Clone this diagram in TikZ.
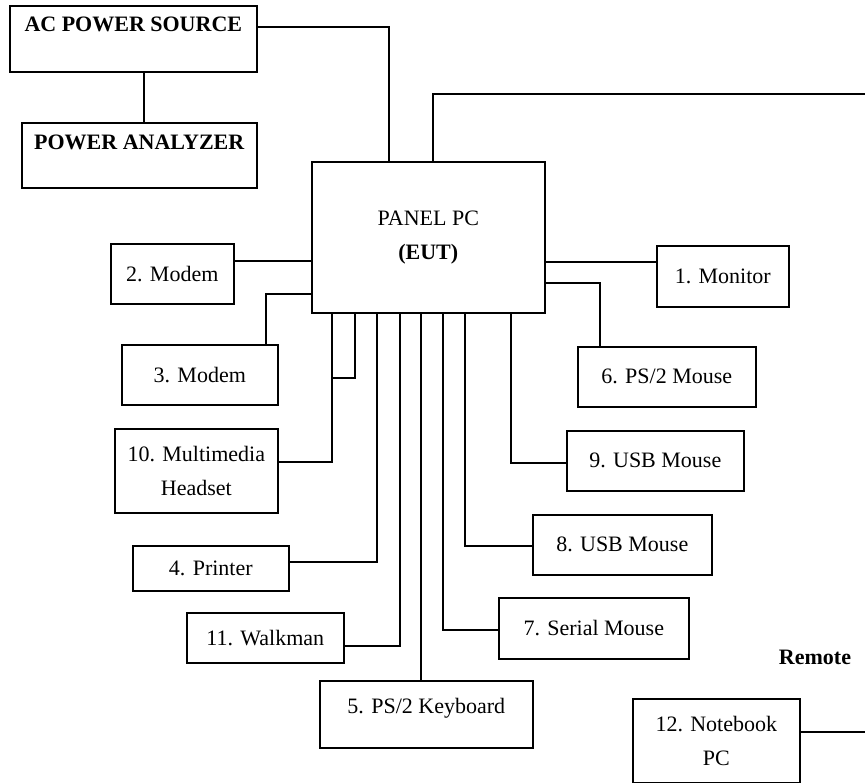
\documentclass[tikz,border=0pt]{standalone}
\usepackage{fontspec}
\setmainfont{Liberation Serif}
\usepackage{tikz}
\usetikzlibrary{positioning,calc}

\begin{document}
\begin{tikzpicture}[
  x=1pt, y=-1pt,
  font=\fontsize{22}{34}\selectfont,
  box/.style={draw, line width=1.6pt, anchor=north west, align=center, inner sep=0pt},
  wire/.style={line width=1.6pt},
]
\useasboundingbox (0,0) rectangle (865,783);
% power side
\node[box, minimum width=247, minimum height=66, text depth=30pt] (acsrc) at (9,5) {\textbf{AC POWER SOURCE}};
\node[box, minimum width=235, minimum height=65, text depth=26pt] (pwran) at (21,122) {\textbf{POWER ANALYZER}};
% equipment under test
\node[box, minimum width=233, minimum height=151] (eut) at (311,161) {PANEL PC\\\textbf{(EUT)}};
% peripherals, left
\node[box, minimum width=123, minimum height=60] (modemB) at (110,243) {2. Modem};
\node[box, minimum width=156, minimum height=60] (modemC) at (121,344) {3. Modem};
\node[box, minimum width=163, minimum height=84] (headset) at (114,428) {10. Multimedia\\Headset};
\node[box, minimum width=156, minimum height=45] (printer) at (132,545) {4. Printer};
\node[box, minimum width=157, minimum height=50] (walkman) at (186,612) {11. Walkman};
\node[box, minimum width=213, minimum height=67, text depth=17pt] (kbd) at (319,680) {5. PS/2 Keyboard};
% peripherals, right
\node[box, minimum width=132, minimum height=61] (monitor) at (656,245) {1. Monitor};
\node[box, minimum width=178, minimum height=60] (psmouse) at (577,346) {6. PS/2 Mouse};
\node[box, minimum width=177, minimum height=60] (usbB) at (566,430) {9. USB Mouse};
\node[box, minimum width=179, minimum height=60] (usbA) at (532,514) {8. USB Mouse};
\node[box, minimum width=190, minimum height=61] (sermouse) at (498,597) {7. Serial Mouse};
% remote side
\node (remote) at (815,657) {\textbf{Remote}};
\node[box, minimum width=167, minimum height=84] (nbpc) at (632,698) {12. Notebook\\PC};
\coordinate (remA) at (865,94);
\coordinate (remB) at (865,732);
% cables
\draw[wire] (acsrc.south -| 144,0) -- (pwran.north -| 144,0);
\draw[wire] (acsrc.east |- 0,27) -| (eut.north -| 389,0);
\draw[wire] (eut.north -| 433,0) |- (remA);
\draw[wire] (nbpc.east |- remB) -- (remB);
\draw[wire] (modemB.east |- 0,261) -- (eut.west |- 0,261);
\draw[wire] (modemC.north -| 266,0) |- (eut.west |- 0,294);
\draw[wire] (headset.east |- 0,462) -| (eut.south -| 332,0);
\draw[wire] (332,378) -| (eut.south -| 355,0);
\draw[wire] (printer.east |- 0,562) -| (eut.south -| 377,0);
\draw[wire] (walkman.east |- 0,646) -| (eut.south -| 400,0);
\draw[wire] (kbd.north -| 421,0) -- (eut.south -| 421,0);
\draw[wire] (sermouse.west |- 0,630) -| (eut.south -| 443,0);
\draw[wire] (usbA.west |- 0,546) -| (eut.south -| 465,0);
\draw[wire] (usbB.west |- 0,463) -| (eut.south -| 511,0);
\draw[wire] (psmouse.north -| 600,0) |- (eut.east |- 0,283);
\draw[wire] (eut.east |- 0,262) -- (monitor.west |- 0,262);
\end{tikzpicture}
\end{document}
